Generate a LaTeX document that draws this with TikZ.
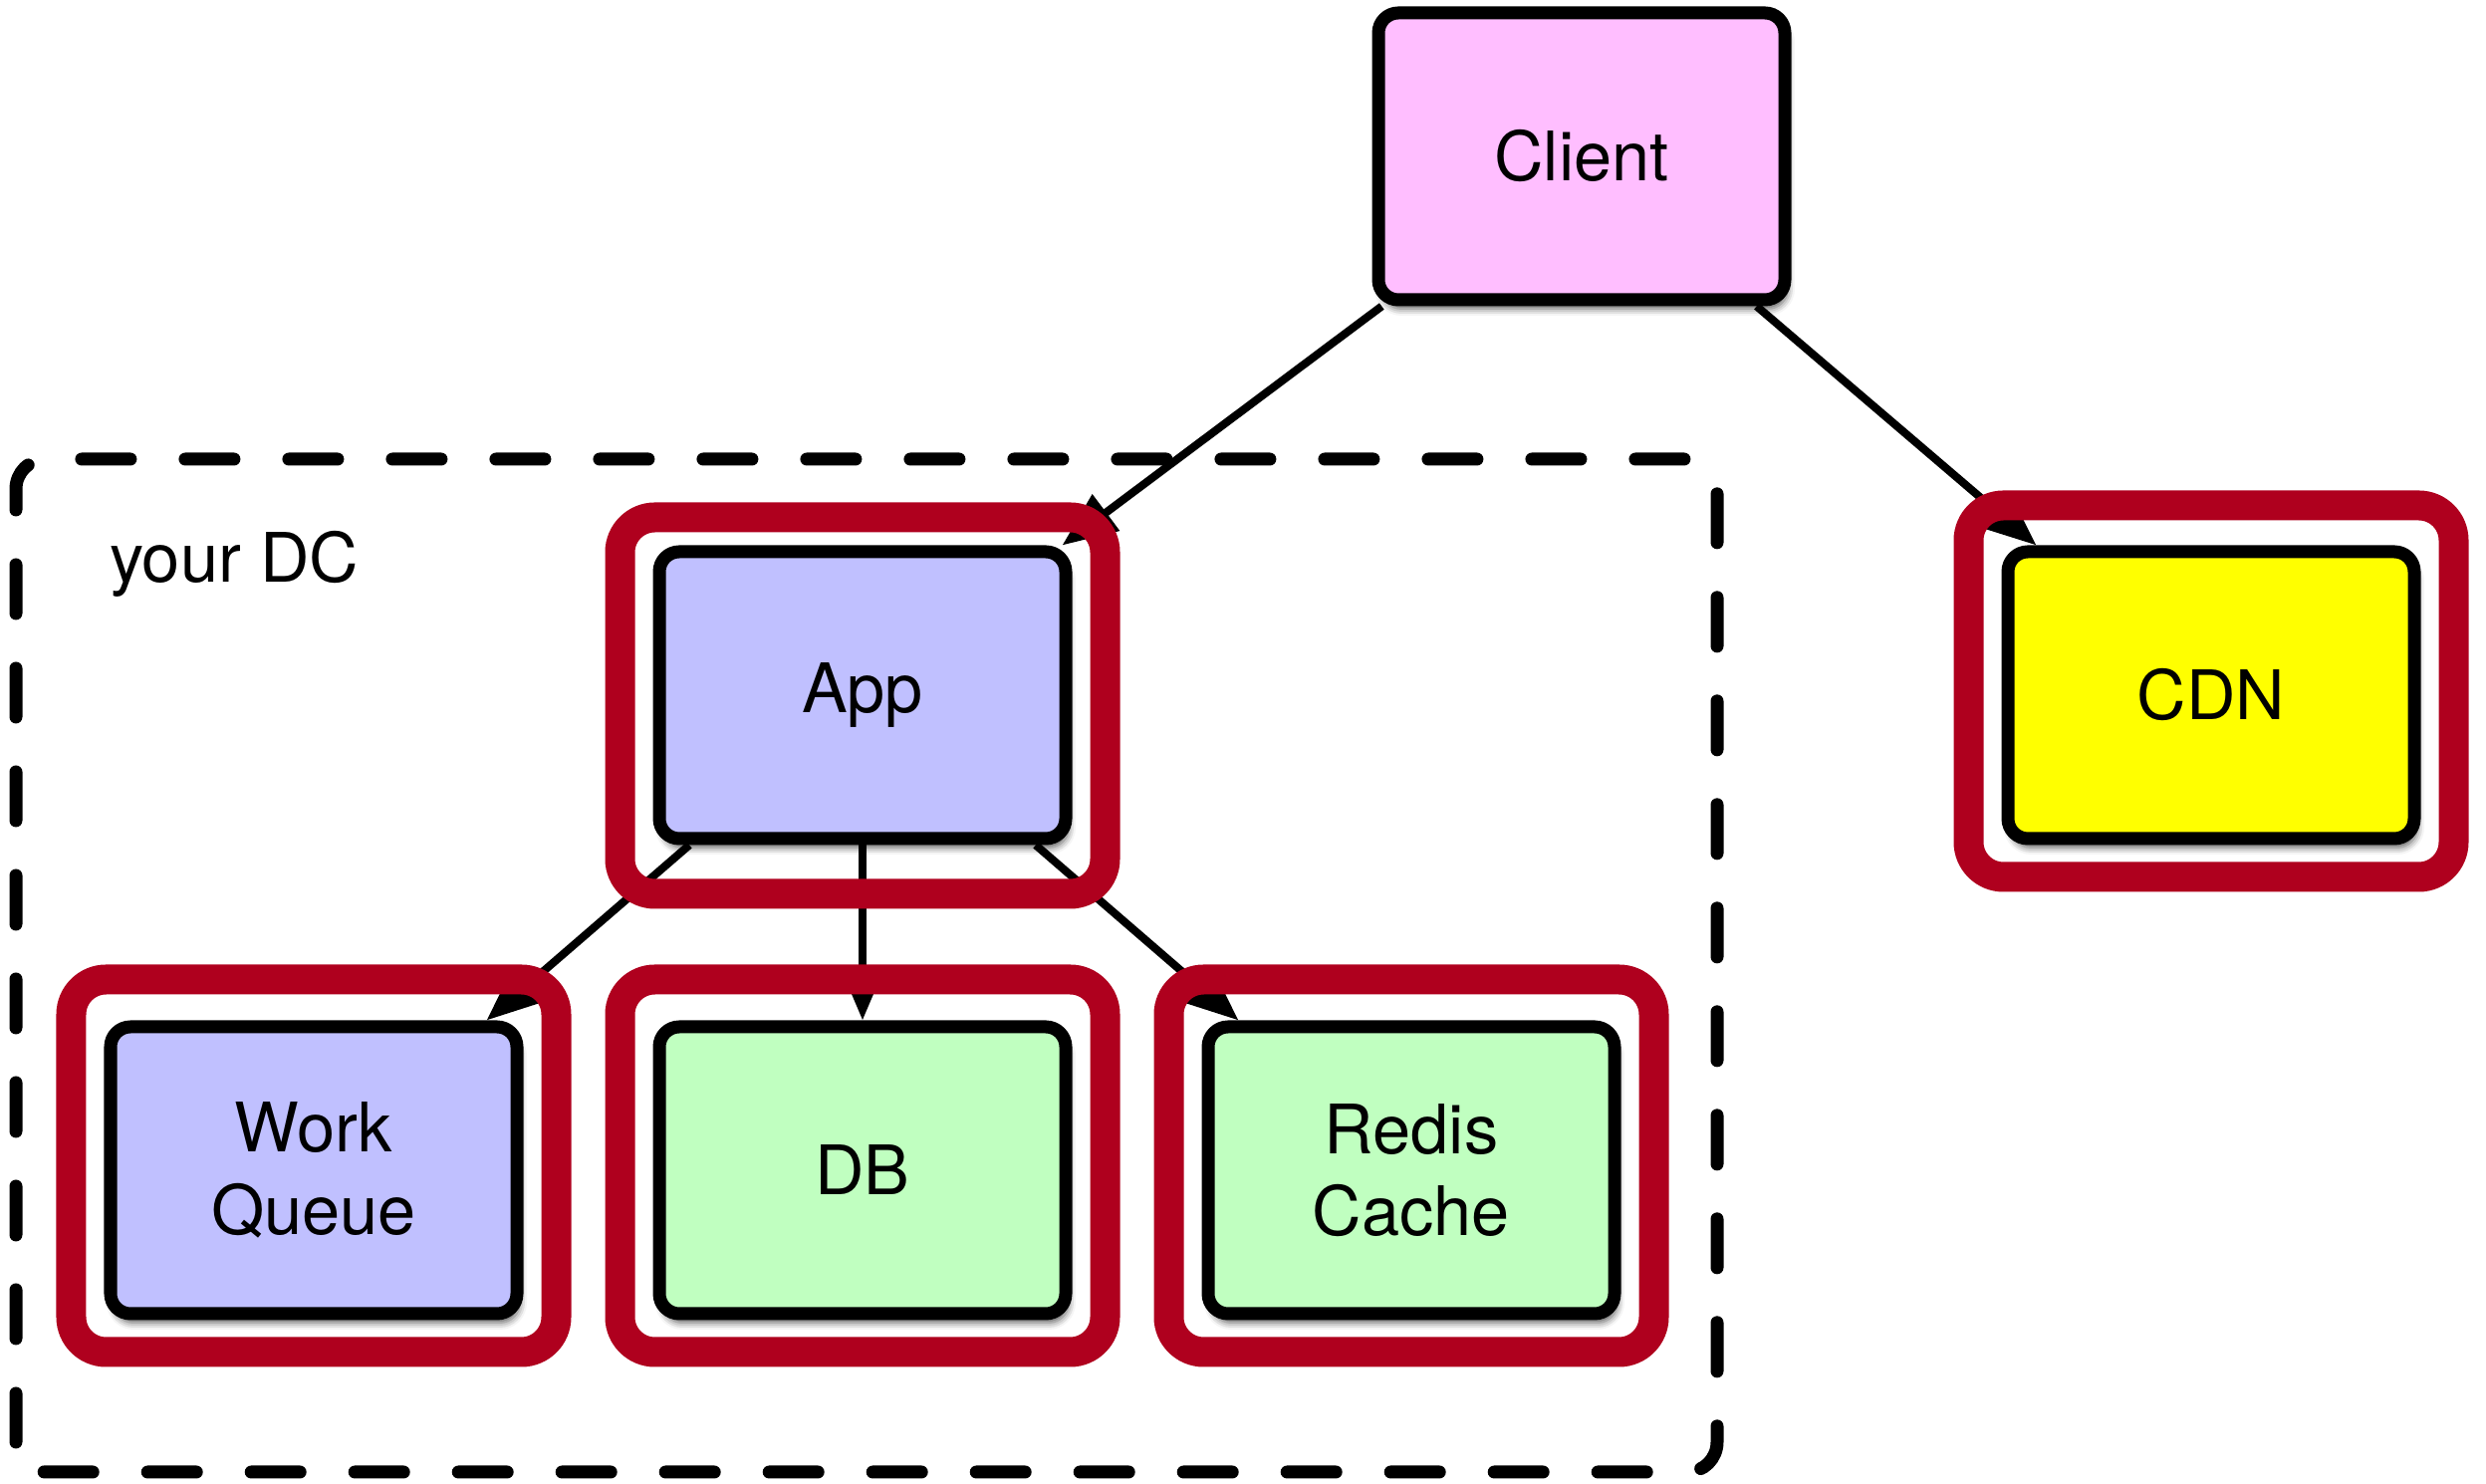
\documentclass[tikz,border=0pt]{standalone}
\usepackage{fontspec}
\setmainfont{TeX Gyre Heros}
\usetikzlibrary{arrows.meta,shadows.blur}
\definecolor{clientpink}{RGB}{255,190,255}
\definecolor{applilac}{RGB}{192,192,255}
\definecolor{storegreen}{RGB}{192,255,192}
\definecolor{cdnyellow}{RGB}{255,255,0}
\definecolor{hlred}{RGB}{175,0,30}
\tikzset{
  box/.style={draw, line width=0.13cm, rounded corners=0.2cm,
    minimum width=4.08cm, minimum height=2.88cm, align=center,
    font=\fontsize{19.5}{23.5}\selectfont,
    blur shadow={shadow xshift=0.03cm, shadow yshift=-0.09cm,
      shadow blur radius=0.07cm, shadow opacity=65}},
  hl/.style={draw=hlred, line width=0.30cm, rounded corners=0.35cm},
  link/.style={line width=0.08cm, -{Triangle[length=0.55cm, width=0.44cm]}},
  dc/.style={line width=0.13cm, dash pattern=on 0.49cm off 0.55cm,
    line cap=round, rounded corners=0.3cm}
}
\begin{document}
\begin{tikzpicture}
            \useasboundingbox (0,0) rectangle (24.96,14.90);

            \node[box, fill=clientpink] (client) at (15.88,13.33) {Client};
            \node[box, fill=applilac] (app) at (8.66,7.92) {App};
            \node[box, fill=cdnyellow] (cdn) at (22.20,7.92) {CDN};

            \node[box, fill=applilac] (queue) at (3.15,3.15) {Work\\Queue};
            \node[box, fill=storegreen] (db) at (8.66,3.15) {DB};
            \node[box, fill=storegreen] (cache) at (14.17,3.15) {Redis\\Cache};

            % your DC
            \draw[dc] (0.16,0.12) rectangle (17.24,10.29);
            \node[anchor=base, font=\fontsize{19.5}{23.5}\selectfont] (dclabel) at (2.35,9.05) {your DC};

            \draw[link] (client) -- (app);
            \draw[link] (client) -- (cdn);
            \draw[link] (app) -- (queue);
            \draw[link] (app) -- (db);
            \draw[link] (app) -- (cache);

            \draw[hl] ([shift={(-0.33,0.28)}]app.north west) rectangle ([shift={(0.33,-0.49)}]app.south east);
            \draw[hl] ([shift={(-0.33,0.40)}]cdn.north west) rectangle ([shift={(0.33,-0.32)}]cdn.south east);
            \draw[hl] ([shift={(-0.33,0.41)}]queue.north west) rectangle ([shift={(0.33,-0.32)}]queue.south east);
            \draw[hl] ([shift={(-0.33,0.41)}]db.north west) rectangle ([shift={(0.33,-0.32)}]db.south east);
            \draw[hl] ([shift={(-0.33,0.41)}]cache.north west) rectangle ([shift={(0.33,-0.32)}]cache.south east);

        \end{tikzpicture}
\end{document}
